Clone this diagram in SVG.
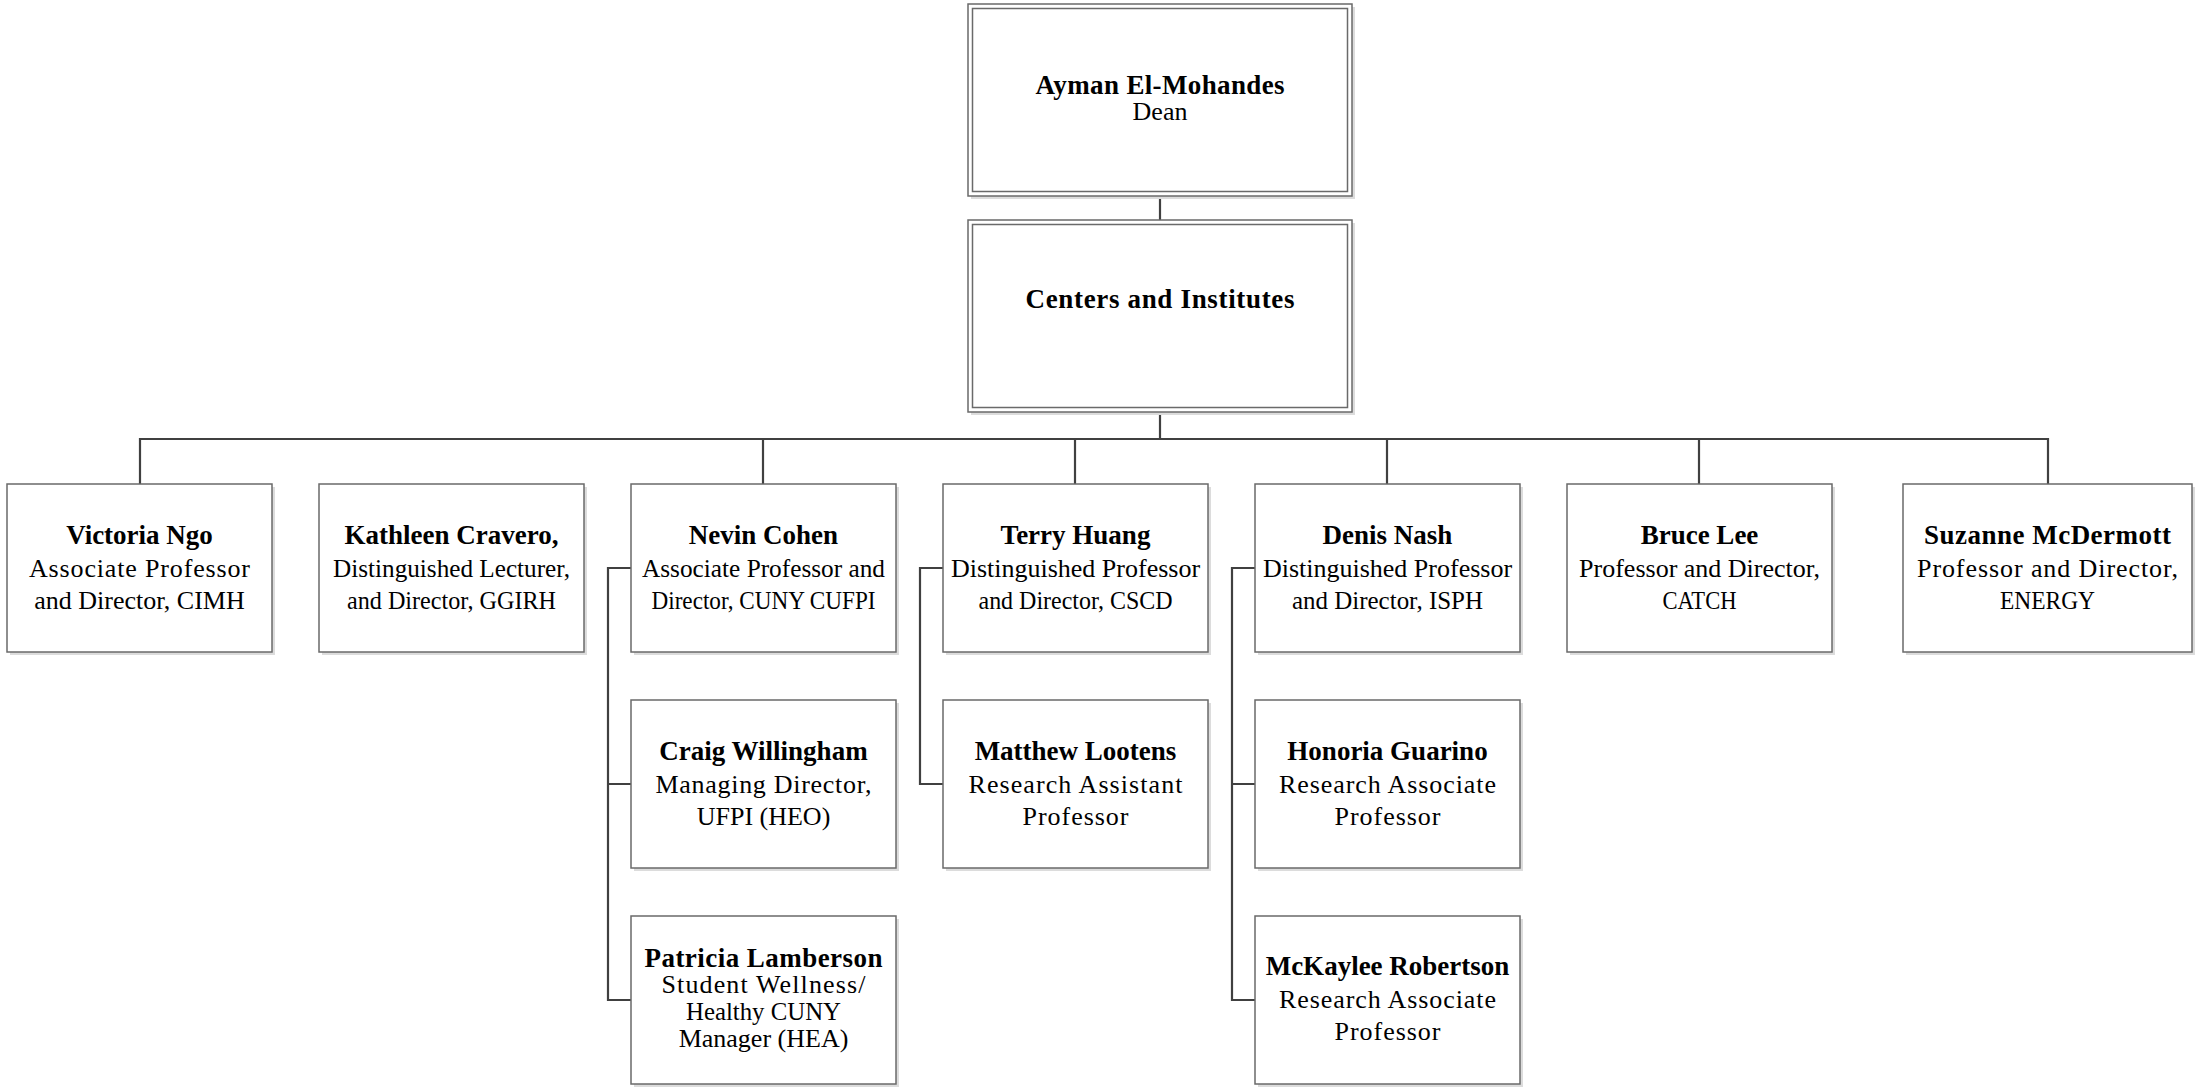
<svg xmlns="http://www.w3.org/2000/svg" width="2196" height="1087" viewBox="0 0 2196 1087">
<style>
.bg{fill:#ffffff}
.shadow{fill:#dcdcdc;stroke:none}
.box{fill:#ffffff;stroke:#6a6a6a;stroke-width:1.5}
.dbl{fill:none;stroke:#6a6a6a;stroke-width:1.5}
.conn{fill:none;stroke:#404040;stroke-width:2.2}
text{font-family:"Liberation Serif","Times New Roman",serif;fill:#000;text-anchor:middle}
.name{font-weight:bold;font-size:27px}
.role{font-size:26px}
</style>
<rect class="bg" x="0" y="0" width="2196" height="1087"/>
<g id="connectors">
  <path class="conn" d="M1160,196 V220"/>
  <path class="conn" d="M1160,412 V439"/>
  <path class="conn" d="M140,484 V439 H2048 V484"/>
  <path class="conn" d="M763,439 V484"/>
  <path class="conn" d="M1075,439 V484"/>
  <path class="conn" d="M1387,439 V484"/>
  <path class="conn" d="M1699,439 V484"/>
  <path class="conn" d="M631,568 H608 V1000 H631 M608,784 H631"/>
  <path class="conn" d="M943,568 H920 V784 H943"/>
  <path class="conn" d="M1255,568 H1232 V1000 H1255 M1232,784 H1255"/>
</g>
<g id="dean">
  <rect class="shadow" x="971" y="7" width="384" height="192"/>
  <rect class="box" x="968" y="4" width="384" height="192"/>
  <rect class="dbl" x="972.5" y="8.5" width="375" height="183"/>
  <text class="name" x="1160" y="94" textLength="249" lengthAdjust="spacing">Ayman El-Mohandes</text>
  <text class="role" x="1160" y="120">Dean</text>
</g>
<g id="centers">
  <rect class="shadow" x="971" y="223" width="384" height="192"/>
  <rect class="box" x="968" y="220" width="384" height="192"/>
  <rect class="dbl" x="972.5" y="224.5" width="375" height="183"/>
  <text class="name" x="1160" y="308" textLength="269" lengthAdjust="spacing">Centers and Institutes</text>
</g>
<g id="victoria-ngo">
  <rect class="shadow" x="10" y="487" width="265" height="168"/>
  <rect class="box" x="7" y="484" width="265" height="168"/>
  <text class="name" x="139.5" y="544">Victoria Ngo</text>
  <text class="role" x="139.5" y="577" textLength="221" lengthAdjust="spacing">Associate Professor</text>
  <text class="role" x="139.5" y="609">and Director, CIMH</text>
</g>
<g id="kathleen-cravero">
  <rect class="shadow" x="322" y="487" width="265" height="168"/>
  <rect class="box" x="319" y="484" width="265" height="168"/>
  <text class="name" x="451.5" y="544">Kathleen Cravero,</text>
  <text class="role" x="451.5" y="577" textLength="237" lengthAdjust="spacingAndGlyphs">Distinguished Lecturer,</text>
  <text class="role" x="451.5" y="609" textLength="209" lengthAdjust="spacingAndGlyphs">and Director, GGIRH</text>
</g>
<g id="nevin-cohen">
  <rect class="shadow" x="634" y="487" width="265" height="168"/>
  <rect class="box" x="631" y="484" width="265" height="168"/>
  <text class="name" x="763.5" y="544">Nevin Cohen</text>
  <text class="role" x="763.5" y="577" textLength="243" lengthAdjust="spacingAndGlyphs">Associate Professor and</text>
  <text class="role" x="763.5" y="609" textLength="224" lengthAdjust="spacingAndGlyphs">Director, CUNY CUFPI</text>
</g>
<g id="terry-huang">
  <rect class="shadow" x="946" y="487" width="265" height="168"/>
  <rect class="box" x="943" y="484" width="265" height="168"/>
  <text class="name" x="1075.5" y="544">Terry Huang</text>
  <text class="role" x="1075.5" y="577">Distinguished Professor</text>
  <text class="role" x="1075.5" y="609" textLength="194" lengthAdjust="spacingAndGlyphs">and Director, CSCD</text>
</g>
<g id="denis-nash">
  <rect class="shadow" x="1258" y="487" width="265" height="168"/>
  <rect class="box" x="1255" y="484" width="265" height="168"/>
  <text class="name" x="1387.5" y="544">Denis Nash</text>
  <text class="role" x="1387.5" y="577">Distinguished Professor</text>
  <text class="role" x="1387.5" y="609" textLength="191" lengthAdjust="spacingAndGlyphs">and Director, ISPH</text>
</g>
<g id="bruce-lee">
  <rect class="shadow" x="1570" y="487" width="265" height="168"/>
  <rect class="box" x="1567" y="484" width="265" height="168"/>
  <text class="name" x="1699.5" y="544">Bruce Lee</text>
  <text class="role" x="1699.5" y="577">Professor and Director,</text>
  <text class="role" x="1699.5" y="609" textLength="74" lengthAdjust="spacingAndGlyphs">CATCH</text>
</g>
<g id="suzanne-mcdermott">
  <rect class="shadow" x="1906" y="487" width="289" height="168"/>
  <rect class="box" x="1903" y="484" width="289" height="168"/>
  <text class="name" x="2047.5" y="544" textLength="247" lengthAdjust="spacing">Suzanne McDermott</text>
  <text class="role" x="2047.5" y="577" textLength="261" lengthAdjust="spacing">Professor and Director,</text>
  <text class="role" x="2047.5" y="609" textLength="95" lengthAdjust="spacingAndGlyphs">ENERGY</text>
</g>
<g id="craig-willingham">
  <rect class="shadow" x="634" y="703" width="265" height="168"/>
  <rect class="box" x="631" y="700" width="265" height="168"/>
  <text class="name" x="763.5" y="760">Craig Willingham</text>
  <text class="role" x="763.5" y="793" textLength="216" lengthAdjust="spacing">Managing Director,</text>
  <text class="role" x="763.5" y="825">UFPI (HEO)</text>
</g>
<g id="patricia-lamberson">
  <rect class="shadow" x="634" y="919" width="265" height="168"/>
  <rect class="box" x="631" y="916" width="265" height="168"/>
  <text class="name" x="763.5" y="967" textLength="238" lengthAdjust="spacing">Patricia Lamberson</text>
  <text class="role" x="763.5" y="993" textLength="204" lengthAdjust="spacing">Student Wellness/</text>
  <text class="role" x="763.5" y="1020" textLength="155" lengthAdjust="spacingAndGlyphs">Healthy CUNY</text>
  <text class="role" x="763.5" y="1047">Manager (HEA)</text>
</g>
<g id="matthew-lootens">
  <rect class="shadow" x="946" y="703" width="265" height="168"/>
  <rect class="box" x="943" y="700" width="265" height="168"/>
  <text class="name" x="1075.5" y="760">Matthew Lootens</text>
  <text class="role" x="1075.5" y="793" textLength="214" lengthAdjust="spacing">Research Assistant</text>
  <text class="role" x="1075.5" y="825" textLength="106" lengthAdjust="spacing">Professor</text>
</g>
<g id="honoria-guarino">
  <rect class="shadow" x="1258" y="703" width="265" height="168"/>
  <rect class="box" x="1255" y="700" width="265" height="168"/>
  <text class="name" x="1387.5" y="760">Honoria Guarino</text>
  <text class="role" x="1387.5" y="793" textLength="217" lengthAdjust="spacing">Research Associate</text>
  <text class="role" x="1387.5" y="825" textLength="106" lengthAdjust="spacing">Professor</text>
</g>
<g id="mckaylee-robertson">
  <rect class="shadow" x="1258" y="919" width="265" height="168"/>
  <rect class="box" x="1255" y="916" width="265" height="168"/>
  <text class="name" x="1387.5" y="975">McKaylee Robertson</text>
  <text class="role" x="1387.5" y="1008" textLength="217" lengthAdjust="spacing">Research Associate</text>
  <text class="role" x="1387.5" y="1040" textLength="106" lengthAdjust="spacing">Professor</text>
</g>
</svg>
